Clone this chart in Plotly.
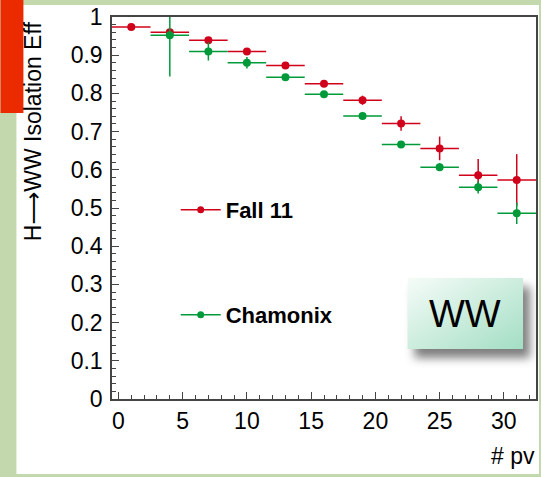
import plotly.graph_objects as go
import urllib.parse

# ---- data ----
pv_bins = [1, 4, 7, 10, 13, 16, 19, 22, 25, 28, 31]
bin_half_width = [1.5] * 11
fall11 = [0.974, 0.960, 0.939, 0.910, 0.873, 0.825, 0.782, 0.721, 0.656, 0.586, 0.573]
fall11_err = [0.007, 0.007, 0.008, 0.006, 0.006, 0.008, 0.012, 0.019, 0.031, 0.042, 0.068]
chamonix = [None, 0.952, 0.910, 0.880, 0.842, 0.798, 0.741, 0.666, 0.607, 0.554, 0.486]
chamonix_err = [0, 0.108, 0.024, 0.015, 0.007, 0.006, 0.006, 0.007, 0.010, 0.016, 0.028]
series_names = ["Fall 11", "Chamonix"]
x_title = "# pv"
y_title = "H<span style='font-family:DejaVu Sans'>\u27f6</span>WW Isolation Eff"
box_label = "WW"

RED = "#d0021b"
GREEN = "#009a3a"
FONT = "Liberation Sans, Arial, sans-serif"

W, H = 541, 477
ML, MR, MT, MB = 112, 3, 17, 78
PW, PH = W - ML - MR, H - MT - MB


def px(x):
    return (x - ML) / PW


def py(y):
    return (H - MB - y) / PH


fig = go.Figure()

for vals, errs, col in [(fall11, fall11_err, RED), (chamonix, chamonix_err, GREEN)]:
    fig.add_trace(go.Scatter(
        x=pv_bins, y=vals, mode="markers",
        marker=dict(color=col, size=8),
        error_x=dict(type="data", array=bin_half_width, color=col, thickness=1.5, width=0),
        error_y=dict(type="data", array=errs, color=col, thickness=1.5, width=0),
        showlegend=False, hoverinfo="x+y",
    ))

# legend entries
fig.add_trace(go.Scatter(x=[None], y=[None], mode="lines+markers", name=series_names[0],
                         line=dict(color=RED, width=1.5), marker=dict(color=RED, size=7),
                         legend="legend"))
fig.add_trace(go.Scatter(x=[None], y=[None], mode="lines+markers", name=series_names[1],
                         line=dict(color=GREEN, width=1.5), marker=dict(color=GREEN, size=7),
                         legend="legend2"))

axis_common = dict(
    showgrid=False, zeroline=False, showline=True, linecolor="#444", linewidth=1.5,
    mirror=True, ticks="inside", tickcolor="#444", tickwidth=1, ticklen=7,
    tickfont=dict(family=FONT, size=23, color="black"),
)
fig.update_xaxes(range=[-0.5, 32.5], dtick=5, tick0=0,
                 minor=dict(dtick=1, ticks="inside", ticklen=4, tickcolor="#444"),
                 ticklabelstandoff=1, **axis_common)
fig.update_yaxes(range=[0, 1], dtick=0.1, tick0=0,
                 minor=dict(dtick=0.02, ticks="inside", ticklen=4, tickcolor="#444"),
                 ticklabelstandoff=3, **axis_common)

# wrapper background
shapes = [
    dict(type="rect", xref="paper", yref="paper", x0=px(16), x1=px(541), y0=py(474), y1=py(5),
         fillcolor="white", line=dict(width=0), layer="below"),
    dict(type="rect", xref="paper", yref="paper", x0=px(0), x1=px(23), y0=py(113), y1=py(0),
         fillcolor="#ec2a00", line=dict(width=0), layer="below"),
]

svg = (
    "<svg xmlns='http://www.w3.org/2000/svg' width='140' height='100' viewBox='0 0 140 100'>"
    "<defs><linearGradient id='g' x1='0' y1='0' x2='1' y2='1'>"
    "<stop offset='0' stop-color='#f6fcf8'/><stop offset='1' stop-color='#a3dec4'/></linearGradient>"
    "<filter id='f' x='-30%' y='-30%' width='160%' height='160%'><feGaussianBlur stdDeviation='5'/></filter></defs>"
    "<rect x='16' y='19' width='116' height='71' fill='#555' opacity='0.75' filter='url(#f)'/>"
    "<rect x='9' y='10' width='116' height='71' fill='url(#g)'/></svg>"
)
src = "data:image/svg+xml;charset=utf-8," + urllib.parse.quote(svg)

legend_font = dict(family=FONT, size=22, color="black", weight="bold")

fig.update_layout(
    width=W, height=H,
    margin=dict(l=ML, r=MR, t=MT, b=MB),
    paper_bgcolor="#c3d9ad", plot_bgcolor="white",
    shapes=shapes,
    images=[dict(source=src, xref="paper", yref="paper", x=px(400), y=py(268),
                 sizex=140 / PW, sizey=100 / PH, xanchor="left", yanchor="top",
                 sizing="stretch", layer="above")],
    annotations=[
        dict(text=y_title, xref="paper", yref="paper", x=px(33), y=py(131), textangle=-90,
             showarrow=False, font=dict(family=FONT, size=23, color="black"),
             xanchor="center", yanchor="middle"),
        dict(text=x_title, xref="paper", yref="paper", x=px(539), y=py(456),
             showarrow=False, font=dict(family=FONT, size=23, color="black"),
             xanchor="right", yanchor="middle"),
        dict(text=box_label, xref="paper", yref="paper", x=px(467), y=py(314),
             showarrow=False, font=dict(family=FONT, size=38, color="black"),
             xanchor="center", yanchor="middle"),
    ],
    legend=dict(x=px(176), y=py(210), xanchor="left", yanchor="middle", itemwidth=40,
                bgcolor="rgba(0,0,0,0)", font=legend_font),
    legend2=dict(x=px(176), y=py(315), xanchor="left", yanchor="middle", itemwidth=40,
                 bgcolor="rgba(0,0,0,0)", font=legend_font),
)

fig.write_html("out.html", config={"displayModeBar": False},
               post_script="document.body.style.margin='0';document.body.style.overflow='hidden';")
